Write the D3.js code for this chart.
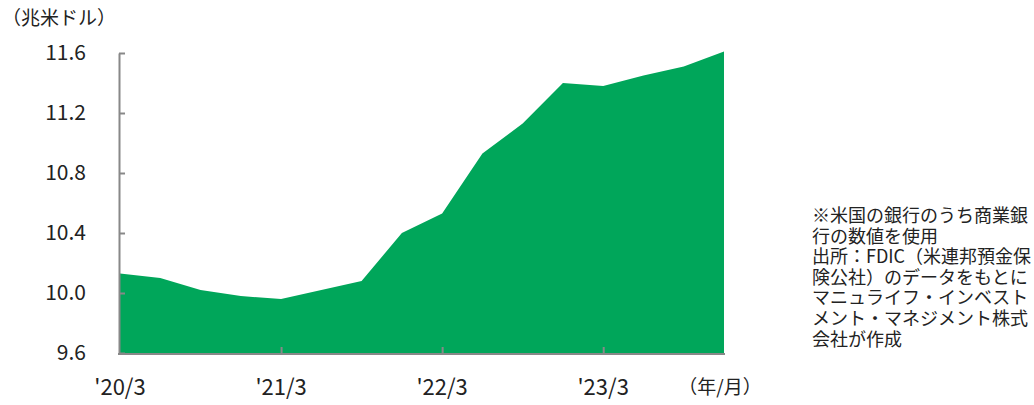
<!DOCTYPE html>
<html>
<head>
<meta charset="utf-8">
<script src="https://cdn.jsdelivr.net/npm/d3@7"></script>
<style>
  body { margin: 0; background: #fff; }
  text { font-family: "Noto Sans CJK JP", "Noto Sans", sans-serif; fill: #222; }
</style>
</head>
<body>
<div id="chart"></div>
<script>
// quarterly, '20/3 .. '23/12
var periods = ["20/3","20/6","20/9","20/12","21/3","21/6","21/9","21/12",
               "22/3","22/6","22/9","22/12","23/3","23/6","23/9","23/12"];
var deposits = [10.13, 10.10, 10.02, 9.98, 9.96, 10.02, 10.08, 10.40,
                10.53, 10.93, 11.13, 11.40, 11.38, 11.45, 11.51, 11.61];
var yTicks = [9.6, 10.0, 10.4, 10.8, 11.2, 11.6];
var xTickLabels = ["20/3", "21/3", "22/3", "23/3"];
var noteLines = [
    "※米国の銀行のうち商業銀",
    "行の数値を使用",
    "出所：FDIC（米連邦預金保",
    "険公社）のデータをもとに",
    "マニュライフ・インベスト",
    "メント・マネジメント株式",
    "会社が作成"
];

var width = 1034, height = 405;
var plotLeft = 120, plotRight = 724, plotTop = 53, plotBottom = 353;

var svg = d3.select("#chart").append("svg")
    .attr("width", width).attr("height", height);

var x = d3.scalePoint().domain(periods).range([plotLeft, plotRight]);
var y = d3.scaleLinear().domain([9.6, 11.6]).range([plotBottom, plotTop]);

var area = d3.area()
    .x(function(d, i) { return x(periods[i]); })
    .y0(y(9.6))
    .y1(function(d) { return y(d); });

svg.append("path")
    .datum(deposits)
    .attr("d", area)
    .attr("fill", "#00a65a");

// y axis, ticks point inward
var yAxis = svg.append("g")
    .attr("transform", "translate(" + (plotLeft - 1) + ",0)")
    .call(d3.axisRight(y).tickValues(yTicks).tickSize(6).tickSizeOuter(0).tickFormat(""));
yAxis.select(".domain").attr("stroke", "#888").attr("stroke-width", 2);
yAxis.selectAll(".tick line").attr("stroke", "#888").attr("stroke-width", 2);

svg.selectAll(".ylab")
    .data(yTicks)
    .enter().append("text")
    .attr("class", "ylab")
    .attr("x", 86)
    .attr("y", function(d) { return y(d) + 7; })
    .attr("text-anchor", "end")
    .attr("font-size", 21)
    .text(function(d) { return d.toFixed(1); });

// x axis, ticks point up
var xAxis = svg.append("g")
    .attr("transform", "translate(0," + plotBottom + ")")
    .call(d3.axisTop(x).tickValues(xTickLabels.slice(1)).tickSize(6).tickSizeOuter(0).tickFormat(""));
xAxis.select(".domain").remove();
xAxis.selectAll(".tick line").attr("stroke", "#888").attr("stroke-width", 2);
svg.append("line")
    .attr("x1", plotLeft - 2).attr("x2", plotRight + 1)
    .attr("y1", plotBottom + 1).attr("y2", plotBottom + 1)
    .attr("stroke", "#888").attr("stroke-width", 2);

svg.selectAll(".xlab")
    .data(xTickLabels)
    .enter().append("text")
    .attr("class", "xlab")
    .attr("x", function(d) { return x(d); })
    .attr("y", 395)
    .attr("text-anchor", "middle")
    .attr("font-size", 22)
    .text(function(d) { return "'" + d; });

svg.append("text")
    .attr("x", 720).attr("y", 394)
    .attr("text-anchor", "middle")
    .attr("font-size", 19)
    .text("（年/月）");

svg.append("text")
    .attr("x", 2).attr("y", 25)
    .attr("font-size", 19)
    .text("（兆米ドル）");

svg.append("g").selectAll("text")
    .data(noteLines)
    .enter().append("text")
    .attr("x", 812)
    .attr("y", function(d, i) { return 222 + i * 20.6; })
    .attr("font-size", 18)
    .text(function(d) { return d; });
</script>
</body>
</html>
